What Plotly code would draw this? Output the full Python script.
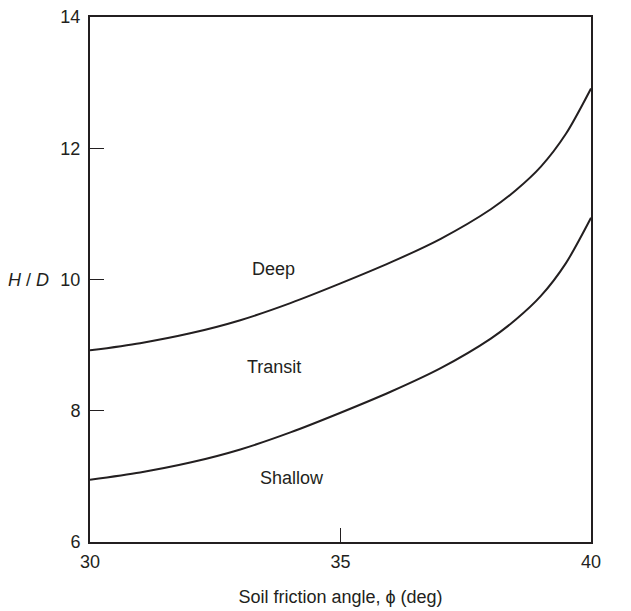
import plotly.graph_objects as go

# Data
phi = [30, 31, 32, 33, 34, 35, 36, 37, 38, 38.5, 39, 39.5, 40]
deep_boundary = [8.92, 9.03, 9.18, 9.38, 9.64, 9.94, 10.26, 10.62, 11.07, 11.36, 11.72, 12.22, 12.91]
shallow_boundary = [6.95, 7.06, 7.21, 7.41, 7.67, 7.97, 8.29, 8.65, 9.10, 9.39, 9.75, 10.25, 10.94]

region_labels = ["Deep", "Transit", "Shallow"]
region_x = [33.66, 33.68, 34.04]
region_y = [10.16, 8.66, 6.98]

x_ticks = [30, 35, 40]
y_ticks = [6, 8, 10, 12, 14]

INK = "#231f20"
FONT = "Liberation Sans, Arial, Helvetica, sans-serif"

fig = go.Figure()
for ys in (deep_boundary, shallow_boundary):
    fig.add_trace(go.Scatter(
        x=phi, y=ys, mode="lines",
        line=dict(color=INK, width=2, shape="spline", smoothing=0.8),
        showlegend=False, hoverinfo="skip",
    ))

for t, xx, yy in zip(region_labels, region_x, region_y):
    fig.add_annotation(x=xx, y=yy, xref="x", yref="y", text=t, showarrow=False,
                       font=dict(family=FONT, size=18, color=INK),
                       xanchor="center", yanchor="middle")

fig.add_annotation(x=-0.077, y=10, xref="paper", yref="y",
                   text="<i>H</i> / <i>D</i>", showarrow=False,
                   font=dict(family=FONT, size=18, color=INK),
                   xanchor="right", yanchor="middle")

fig.update_xaxes(
    range=[30, 40], tickvals=x_ticks, ticktext=[str(v) for v in x_ticks],
    ticks="inside", ticklen=14, tickwidth=1.2, tickcolor=INK,
    showline=True, linecolor=INK, linewidth=2, mirror=True,
    showgrid=False, zeroline=False,
    tickfont=dict(family=FONT, size=18, color=INK),
    ticklabelstandoff=2, ticklabeloverflow="allow",
    title=dict(text="Soil friction angle, ϕ (deg)", standoff=20,
               font=dict(family=FONT, size=18, color=INK)),
    automargin=False,
)
fig.update_yaxes(
    range=[6, 14], tickvals=y_ticks, ticktext=[str(v) for v in y_ticks],
    ticks="inside", ticklen=14, tickwidth=1.2, tickcolor=INK,
    showline=True, linecolor=INK, linewidth=2, mirror=True,
    showgrid=False, zeroline=False,
    tickfont=dict(family=FONT, size=18, color=INK),
    ticklabelstandoff=4, ticklabeloverflow="allow",
    automargin=False,
)

fig.update_layout(
    width=631, height=611,
    margin=dict(l=82, r=48, t=9, b=77),
    paper_bgcolor="white", plot_bgcolor="white",
    showlegend=False,
)

fig.write_html("out.html")
